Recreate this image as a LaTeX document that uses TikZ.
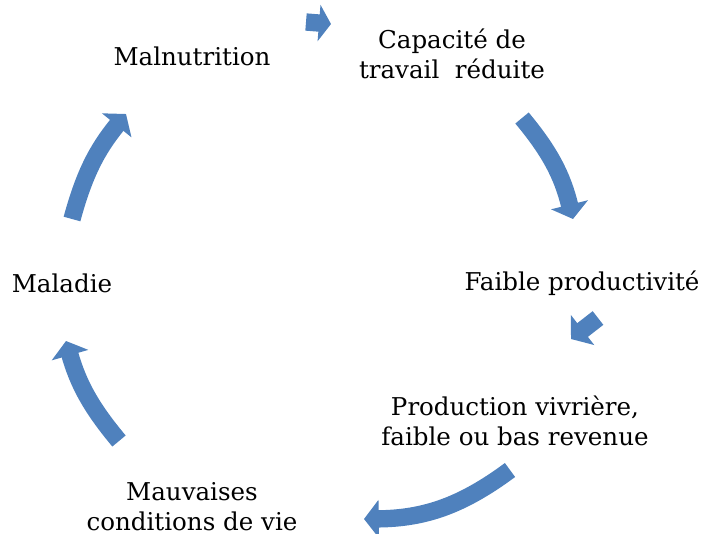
\documentclass[tikz,border=0pt]{standalone}
\usepackage{fontspec}
\setmainfont{DejaVu Serif}
\usetikzlibrary{arrows.meta}
\definecolor{cblue}{HTML}{4F81BD}
\tikzset{
  stage/.style={align=center, font=\fontsize{18.4}{22}\selectfont, inner sep=0pt, anchor=base},
  cyclearrow/.style={draw=cblue, line width=13pt, -{Triangle[length=11pt, width=28pt]}},
}

\begin{document}
\begin{tikzpicture}[x=0.75pt, y=-0.75pt]
  \useasboundingbox (0,0) rectangle (703,533);
  % stages of the cycle
  \node[stage] (maln) at (192,65) {Malnutrition};
  \node[stage] (capa) at (452,78) {Capacité de\\travail~ réduite};
  \node[stage] (faib) at (582,290) {Faible productivité};
  \node[stage] (prod) at (515,445) {Production vivrière,\\faible ou bas revenue};
  \node[stage] (mauv) at (192,530) {Mauvaises\\conditions de vie};
  \node[stage] (mala) at (62,292) {Maladie};
  % arrow ends
  \coordinate (a1s) at (306,22);  \coordinate (a1e) at (331,24);
  \coordinate (a2s) at (522,118); \coordinate (a2e) at (573,219);
  \coordinate (a3s) at (598,318); \coordinate (a3e) at (571,339);
  \coordinate (a4s) at (510,470); \coordinate (a4e) at (364,519);
  \coordinate (a5s) at (119,441); \coordinate (a5e) at (66,341);
  \coordinate (a6s) at (72,219);  \coordinate (a6e) at (126,114);
  % arrows
  \draw[cyclearrow, -{Triangle[length=9pt, width=27pt]}] (a1s) -- (a1e);
  \draw[cyclearrow] (a2s) to[bend left=13] (a2e);
  \draw[cyclearrow] (a3s) -- (a3e);
  \draw[cyclearrow] (a4s) to[bend left=18] (a4e);
  \draw[cyclearrow] (a5s) to[bend left=12] (a5e);
  \draw[cyclearrow] (a6s) to[bend left=12] (a6e);
\end{tikzpicture}
\end{document}
